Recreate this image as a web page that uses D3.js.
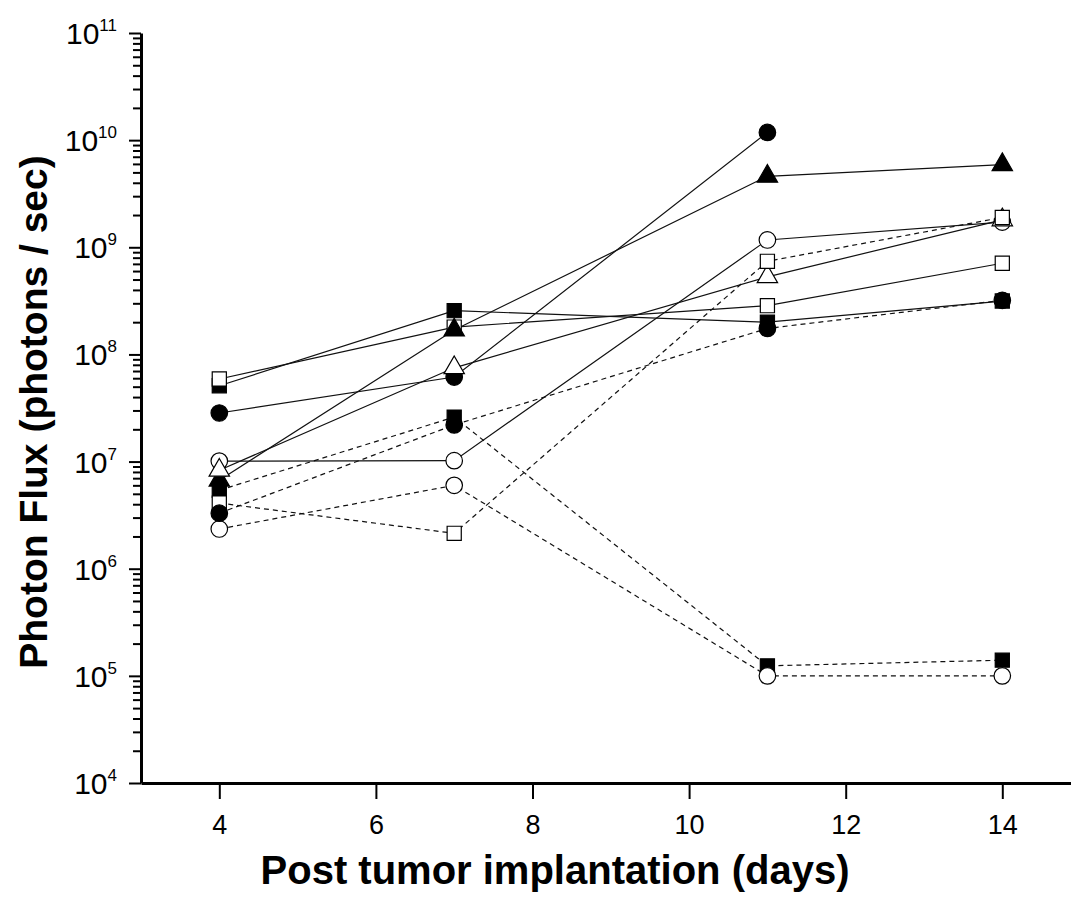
<!DOCTYPE html>
<html>
<head>
<meta charset="utf-8">
<script src="https://cdn.jsdelivr.net/npm/d3@7"></script>
<style>
body { margin: 0; background: #fff; }
text { font-family: "Liberation Sans", Arial, sans-serif; fill: #000; }
</style>
</head>
<body>
<svg id="chart" width="1071" height="898"></svg>
<script>
var days = [4, 7, 11, 14];
var xTicks = [4, 6, 8, 10, 12, 14];
var yExponents = [4, 5, 6, 7, 8, 9, 10, 11];

// solid-line animals
var solidFilledCircle = [2.84e7, 6.15e7, 1.18e10, null];
var solidFilledSquare = [5.1e7, 2.56e8, 2.0e8, 3.15e8];
var solidFilledTriangle = [6.7e6, 1.69e8, 4.6e9, 5.9e9];
var solidOpenCircle = [1.01e7, 1.02e7, 1.17e9, 1.72e9];
var solidOpenSquare = [5.9e7, 1.8e8, 2.85e8, 7.1e8];
var solidOpenTriangle = [8.3e6, 7.5e7, 5.3e8, 1.8e9];
// dashed-line animals
var dashFilledCircle = [3.3e6, 2.2e7, 1.75e8, 3.2e8];
var dashFilledSquare = [5.4e6, 2.6e7, 1.24e5, 1.4e5];
var dashOpenCircle = [2.35e6, 6.0e6, 1.0e5, 1.0e5];
var dashOpenSquare = [4.1e6, 2.14e6, 7.4e8, 1.9e9];

var series = [
	{ values: solidFilledSquare, shape: "square", open: false, dashed: false },
	{ values: solidOpenSquare, shape: "square", open: true, dashed: false },
	{ values: solidFilledTriangle, shape: "triangle", open: false, dashed: false },
	{ values: solidFilledCircle, shape: "circle", open: false, dashed: false },
	{ values: solidOpenCircle, shape: "circle", open: true, dashed: false },
	{ values: solidOpenTriangle, shape: "triangle", open: true, dashed: false },
	{ values: dashFilledSquare, shape: "square", open: false, dashed: true },
	{ values: dashOpenCircle, shape: "circle", open: true, dashed: true },
	{ values: dashOpenSquare, shape: "square", open: true, dashed: true },
	{ values: dashFilledCircle, shape: "circle", open: false, dashed: true }
];

var svg = d3.select("#chart");

var x = d3.scaleLinear().domain([3, 15]).range([141, 1080.6]);
var y = d3.scaleLog().domain([1e4, 1e11]).range([783, 33]);

var shapes = {
	circle: d3.symbol().type(d3.symbolCircle).size(215),
	square: d3.symbol().type(d3.symbolSquare).size(200),
	triangle: d3.symbol().type(d3.symbolTriangle).size(180)
};

// x axis
var xAxis = svg.append("g")
	.attr("transform", "translate(0,783)")
	.call(d3.axisBottom(x).tickValues(xTicks).tickSize(16).tickSizeOuter(0).tickPadding(16));
xAxis.select(".domain").attr("stroke-width", 3);
xAxis.selectAll(".tick line").attr("stroke-width", 2);
xAxis.selectAll(".tick text")
	.style("font-size", "27px")
	.style("font-family", "'Liberation Sans', Arial, sans-serif");

// y axis: minor then major ticks
var minors = [];
yExponents.slice(0, -1).forEach(function (e) {
	for (var m = 2; m <= 9; m++) minors.push(m * Math.pow(10, e));
});
var yMinor = svg.append("g")
	.attr("transform", "translate(141,0)")
	.call(d3.axisLeft(y).tickValues(minors).tickSize(8).tickSizeOuter(0).tickFormat(""));
yMinor.selectAll(".tick line").attr("stroke-width", 2);
yMinor.select(".domain").remove();

var yMajor = svg.append("g")
	.attr("transform", "translate(141,0)")
	.call(d3.axisLeft(y).tickValues(yExponents.map(function (e) { return Math.pow(10, e); }))
		.tickSize(12).tickSizeOuter(0).tickFormat(""));
yMajor.select(".domain").attr("stroke-width", 3);
yMajor.selectAll(".tick line").attr("stroke-width", 2);

var yLab = svg.append("g").selectAll("text")
	.data(yExponents)
	.enter().append("text")
	.attr("x", 117)
	.attr("y", function (d) { return y(Math.pow(10, d)) + 11; })
	.attr("text-anchor", "end")
	.style("font-size", "30px");
yLab.append("tspan").text("10");
yLab.append("tspan")
	.attr("dy", -13)
	.style("font-size", "17px")
	.text(function (d) { return d; });

// axis titles
svg.append("text")
	.attr("x", 555)
	.attr("y", 884)
	.attr("text-anchor", "middle")
	.style("font-size", "40px")
	.style("font-weight", "bold")
	.text("Post tumor implantation (days)");

svg.append("text")
	.attr("transform", "translate(47,412) rotate(-90)")
	.attr("text-anchor", "middle")
	.style("font-size", "39px")
	.style("font-weight", "bold")
	.text("Photon Flux (photons / sec)");

// lines
var line = d3.line()
	.defined(function (d) { return d.v != null; })
	.x(function (d) { return x(d.day); })
	.y(function (d) { return y(d.v); });

function pts(s) {
	return days.map(function (d, i) { return { day: d, v: s.values[i] }; });
}

svg.append("g").selectAll("path")
	.data(series)
	.enter().append("path")
	.attr("d", function (s) { return line(pts(s)); })
	.attr("fill", "none")
	.attr("stroke", "#111")
	.attr("stroke-width", 1.2)
	.attr("stroke-dasharray", function (s) { return s.dashed ? "5,4" : null; });

// markers
series.forEach(function (s) {
	svg.append("g").selectAll("path")
		.data(pts(s).filter(function (d) { return d.v != null; }))
		.enter().append("path")
		.attr("transform", function (d) { return "translate(" + x(d.day) + "," + y(d.v) + ")"; })
		.attr("d", shapes[s.shape])
		.attr("fill", s.open ? "#fff" : "#000")
		.attr("stroke", "#000")
		.attr("stroke-width", 1.2);
});
</script>
</body>
</html>
